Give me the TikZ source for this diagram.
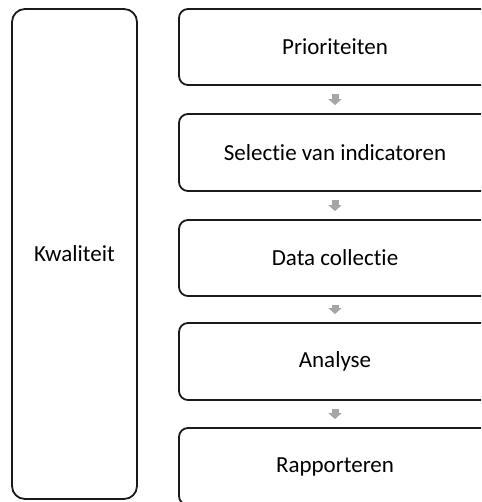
\documentclass[tikz,border=0pt]{standalone}
\usepackage{fontspec}
\setmainfont{Carlito}[Ligatures=NoCommon]
\usetikzlibrary{arrows.meta}
\definecolor{arrowgray}{HTML}{A6A6A6}
\definecolor{edge}{HTML}{1A1A1A}
\tikzset{
  stepbox/.style={draw=edge, line width=1.8pt, rounded corners=9pt, fill=white,
    minimum width=330pt, inner sep=0pt, font=\fontsize{23}{27}\selectfont},
  steptext/.style={font=\fontsize{23}{27}\selectfont, inner sep=0pt},
  sidebox/.style={draw=edge, line width=1.8pt, rounded corners=13pt, fill=white,
    minimum width=125pt, minimum height=490pt, inner sep=0pt,
    font=\fontsize{23}{27}\selectfont},
  flow/.style={draw=arrowgray, line width=7pt, shorten <=8pt, shorten >=8pt,
    -{Triangle[width=13pt,length=6pt]}}
}
\begin{document}
\begin{tikzpicture}[x=1pt,y=-1pt]
  \useasboundingbox (0,0) rectangle (481,502);
  \clip (0,0) rectangle (481,502);
  % quality frame on the left
  \node[sidebox] (kw) at (74.5,254) {Kwaliteit};
  % process steps (boxes run past the right edge; labels centred at x=335)
  \node[stepbox, minimum height=76pt] (s1) at (344,47) {};
  \node[stepbox, minimum height=77pt] (s2) at (344,152.5) {};
  \node[stepbox, minimum height=76pt] (s3) at (344,258) {};
  \node[stepbox, minimum height=77pt] (s4) at (344,361.5) {};
  \node[stepbox, minimum height=77pt] (s5) at (344,466.5) {};
  \node[steptext] (t1) at (335,47) {Prioriteiten};
  \node[steptext] (t2) at (335,152.5) {Selectie van indicatoren};
  \node[steptext] (t3) at (335,258) {Data collectie};
  \node[steptext] (t4) at (335,361.5) {Analyse};
  \node[steptext] (t5) at (335,466.5) {Rapporteren};
  % flow between steps
  \draw[flow] (s1.south -| t1) -- (s2.north -| t1);
  \draw[flow] (s2.south -| t2) -- (s3.north -| t2);
  \draw[flow] (s3.south -| t3) -- (s4.north -| t3);
  \draw[flow] (s4.south -| t4) -- (s5.north -| t4);
\end{tikzpicture}
\end{document}
